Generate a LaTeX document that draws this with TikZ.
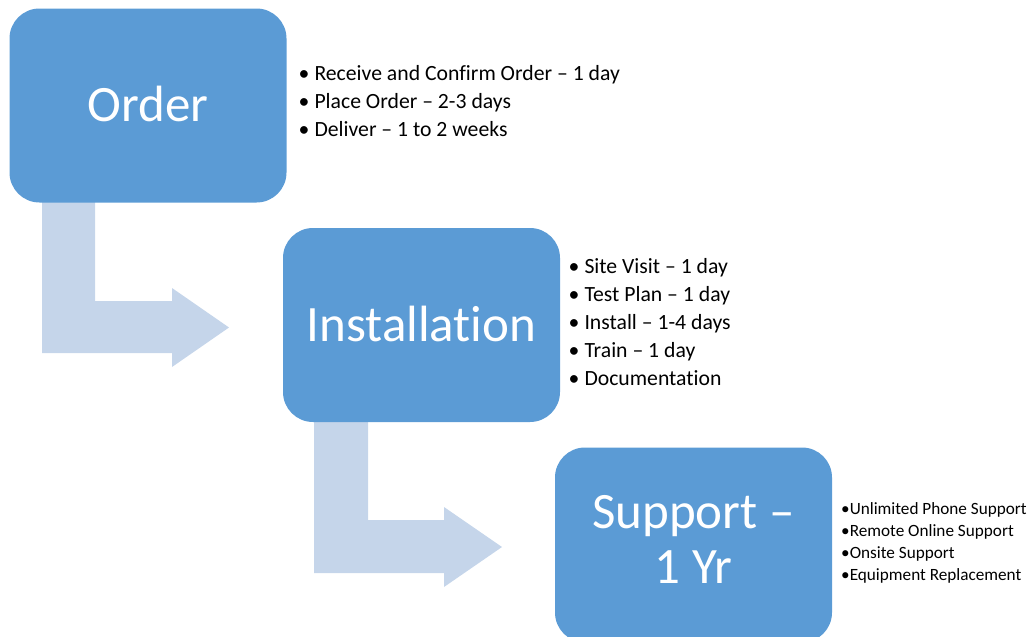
\documentclass[tikz,border=0pt]{standalone}
\usepackage{fontspec}
\setmainfont{Carlito}[Ligatures=NoCommon]
\definecolor{boxblue}{HTML}{5B9BD5}
\definecolor{arrowblue}{HTML}{C5D5EA}
\begin{document}
\begin{tikzpicture}[x=1pt,y=-1pt,
  stage/.style={fill=boxblue, draw=none, rounded corners=30pt, text=white,
    minimum width=277pt, minimum height=194pt, inner sep=0pt, align=center,
    font=\fontsize{51}{55}\selectfont},
  bentarrow/.style={fill=arrowblue, draw=none},
  list/.style={anchor=north west, align=left, inner sep=0pt, text=black},
  biglist/.style={list, font=\fontsize{21.7}{28}\selectfont},
  smalllist/.style={list, font=\fontsize{17.2}{22}\selectfont}]
\useasboundingbox (0,0) rectangle (1031,637);
\begin{scope}
\clip (0,0) rectangle (1031,637);
% arrows
\fill[bentarrow] (42,200) -- (95,200) -- (95,301) -- (172,301) -- (172,288) -- (229,327.5) -- (172,367) -- (172,353) -- (42,353) -- cycle;
\fill[bentarrow] (314,418) -- (368,418) -- (368,520) -- (444,520) -- (444,507) -- (502,547) -- (444,587) -- (444,573) -- (314,573) -- cycle;
% boxes
\node[stage] (order) at (148,105.5) {\raisebox{3pt}{Order}};
\node[stage] (install) at (421.5,325) {\raisebox{3pt}{Installation}};
\node[stage, minimum height=195pt] (support) at (693.5,545) {\raisebox{3pt}{\begin{tabular}{@{}c@{}}Support --\\[-0pt]1 Yr\end{tabular}}};
\end{scope}
% lists
\node[biglist] (orderlist) at (298.5,65) {\textbullet\hspace{5pt}Receive and Confirm Order -- 1 day\\
\textbullet\hspace{5pt}Place Order -- 2-3 days\\
\textbullet\hspace{5pt}Deliver -- 1 to 2 weeks};
\node[biglist] (installlist) at (568.5,258) {\textbullet\hspace{5pt}Site Visit -- 1 day\\
\textbullet\hspace{5pt}Test Plan -- 1 day\\
\textbullet\hspace{5pt}Install -- 1-4 days\\
\textbullet\hspace{5pt}Train -- 1 day\\
\textbullet\hspace{5pt}Documentation};
\node[smalllist] (supportlist) at (841,502.5) {\textbullet Unlimited Phone Support\\
\textbullet Remote Online Support\\
\textbullet Onsite Support\\
\textbullet Equipment Replacement};
\end{tikzpicture}
\end{document}
